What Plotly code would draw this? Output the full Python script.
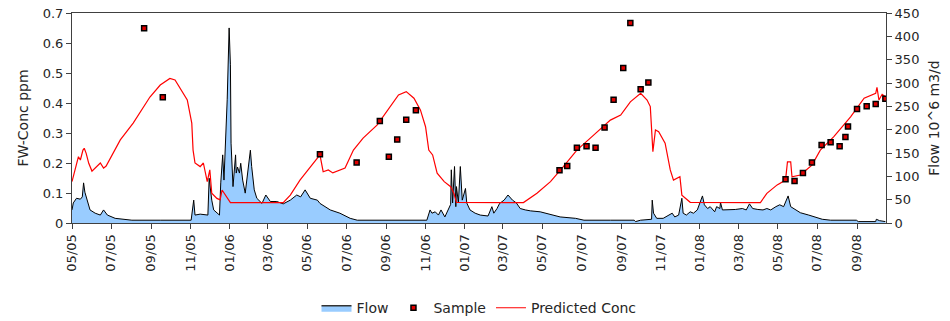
import plotly.graph_objects as go

# ---- Flow (10^6 m3/d), right axis ----
flow_dates = [
    "2005-05-01", "2005-05-03", "2005-05-08", "2005-05-14", "2005-05-17", "2005-05-19", "2005-05-21",
    "2005-05-25", "2005-05-29", "2005-06-06", "2005-06-14", "2005-06-19", "2005-06-25", "2005-07-07",
    "2005-07-22", "2005-08-02", "2005-09-15", "2005-11-02", "2005-11-06", "2005-11-08", "2005-11-16",
    "2005-11-28", "2005-11-30", "2005-12-04", "2005-12-07", "2005-12-16", "2005-12-18", "2005-12-21",
    "2005-12-23", "2005-12-26", "2005-12-28", "2005-12-31", "2006-01-02", "2006-01-03", "2006-01-06",
    "2006-01-10", "2006-01-11", "2006-01-13", "2006-01-16", "2006-01-18", "2006-01-21", "2006-01-25",
    "2006-01-28", "2006-02-02", "2006-02-04", "2006-02-08", "2006-02-12", "2006-02-20", "2006-02-26",
    "2006-03-05", "2006-03-15", "2006-03-25", "2006-04-05", "2006-04-15", "2006-04-21", "2006-04-28",
    "2006-05-06", "2006-05-11", "2006-05-17", "2006-05-21", "2006-05-29", "2006-06-06", "2006-06-21",
    "2006-07-07", "2006-07-18", "2006-09-15", "2006-11-03", "2006-11-08", "2006-11-11", "2006-11-16",
    "2006-11-21", "2006-11-25", "2006-12-01", "2006-12-10", "2006-12-11", "2006-12-13", "2006-12-16",
    "2006-12-18", "2006-12-19", "2006-12-22", "2006-12-25", "2006-12-28", "2007-01-02", "2007-01-04",
    "2007-01-09", "2007-01-17", "2007-01-25", "2007-02-06", "2007-02-12", "2007-02-15", "2007-02-20",
    "2007-02-24", "2007-03-03", "2007-03-09", "2007-03-16", "2007-03-22", "2007-03-28", "2007-04-05",
    "2007-04-13", "2007-04-28", "2007-05-06", "2007-05-14", "2007-05-29", "2007-06-22", "2007-07-05",
    "2007-08-15", "2007-09-21", "2007-09-23", "2007-10-01", "2007-10-18", "2007-10-19", "2007-10-21",
    "2007-10-26", "2007-11-05", "2007-11-14", "2007-11-19", "2007-11-23", "2007-11-29", "2007-12-04",
    "2007-12-06", "2007-12-11", "2007-12-17", "2007-12-22", "2007-12-28", "2008-01-05", "2008-01-08",
    "2008-01-13", "2008-01-17", "2008-01-24", "2008-01-27", "2008-02-01", "2008-02-02", "2008-02-05",
    "2008-02-14", "2008-02-25", "2008-03-07", "2008-03-13", "2008-03-18", "2008-03-23", "2008-03-31",
    "2008-04-08", "2008-04-14", "2008-04-20", "2008-04-28", "2008-05-04", "2008-05-10", "2008-05-17",
    "2008-05-21", "2008-05-29", "2008-06-05", "2008-06-18", "2008-06-28", "2008-07-09", "2008-07-22",
    "2008-08-31", "2008-09-03", "2008-09-30", "2008-10-01", "2008-10-06", "2008-10-15",
]
flow_values = [
    28, 43, 53, 51, 56, 86, 66,
    46, 28, 21, 17, 28, 17, 10,
    8, 6, 6, 6, 49, 17, 19,
    17, 96, 49, 28, 17, 86, 146,
    92, 193, 264, 418, 339, 171, 78,
    146, 107, 120, 107, 128, 92, 64,
    99, 156, 121, 71, 53, 42, 60,
    46, 46, 41, 49, 60, 56, 71,
    53, 51, 49, 42, 35, 28, 21,
    10, 6, 6, 6, 28, 21, 24,
    17, 28, 13, 40, 114, 43, 121,
    35, 78, 43, 121, 49, 74, 43,
    28, 21, 17, 15, 35, 21, 31,
    42, 49, 60, 49, 43, 31, 28,
    26, 24, 21, 17, 13, 10, 6,
    6, 6, 3, 6, 8, 49, 21,
    10, 10, 17, 21, 13, 17, 53,
    21, 17, 24, 21, 28, 58, 39,
    31, 35, 24, 35, 31, 44, 28,
    28, 29, 31, 28, 41, 31, 29,
    28, 31, 28, 35, 39, 35, 58,
    35, 28, 22, 17, 12, 8, 6,
    6, 3, 3, 8, 5, 3,
]

# ---- Predicted Conc (ppm), left axis ----
conc_dates = [
    "2005-05-01", "2005-05-06", "2005-05-11", "2005-05-14", "2005-05-18", "2005-05-20", "2005-05-23",
    "2005-05-27", "2005-06-01", "2005-06-14", "2005-06-19", "2005-06-23", "2005-07-15", "2005-08-04",
    "2005-08-30", "2005-09-15", "2005-09-30", "2005-10-08", "2005-10-16", "2005-10-27", "2005-11-03",
    "2005-11-05", "2005-11-08", "2005-11-16", "2005-11-21", "2005-11-27", "2005-12-01", "2005-12-04",
    "2005-12-12", "2005-12-17", "2005-12-20", "2005-12-27", "2006-01-02", "2006-03-25", "2006-04-05",
    "2006-04-20", "2006-05-06", "2006-05-18", "2006-05-21", "2006-05-26", "2006-06-03", "2006-06-10",
    "2006-06-29", "2006-07-12", "2006-07-27", "2006-08-18", "2006-09-07", "2006-09-20", "2006-10-02",
    "2006-10-14", "2006-10-24", "2006-11-01", "2006-11-06", "2006-11-12", "2006-11-19", "2006-11-30",
    "2006-12-10", "2006-12-15", "2006-12-19", "2007-04-02", "2007-04-23", "2007-05-14", "2007-06-03",
    "2007-06-24", "2007-07-20", "2007-08-15", "2007-08-31", "2007-09-15", "2007-10-01", "2007-10-11",
    "2007-10-16", "2007-10-20", "2007-10-24", "2007-10-29", "2007-11-08", "2007-11-16", "2007-11-21",
    "2007-12-01", "2007-12-04", "2007-12-17", "2008-04-04", "2008-04-14", "2008-04-30", "2008-05-13",
    "2008-05-16", "2008-05-21", "2008-05-23", "2008-06-05", "2008-06-23", "2008-07-06", "2008-07-27",
    "2008-08-22", "2008-09-12", "2008-09-30", "2008-10-02", "2008-10-05", "2008-10-10", "2008-10-15",
]
conc_values = [
    0.138, 0.177, 0.221, 0.210, 0.243, 0.249, 0.232,
    0.199, 0.173, 0.200, 0.183, 0.190, 0.277, 0.333,
    0.420, 0.460, 0.482, 0.477, 0.450, 0.410, 0.333,
    0.243, 0.200, 0.188, 0.200, 0.138, 0.177, 0.099,
    0.082, 0.077, 0.110, 0.088, 0.068, 0.068, 0.093,
    0.143, 0.187, 0.220, 0.227, 0.171, 0.177, 0.167,
    0.183, 0.243, 0.283, 0.327, 0.388, 0.427, 0.438,
    0.416, 0.377, 0.321, 0.243, 0.227, 0.166, 0.138,
    0.121, 0.099, 0.069, 0.068, 0.099, 0.138, 0.188,
    0.243, 0.293, 0.343, 0.360, 0.404, 0.432, 0.410,
    0.388, 0.238, 0.310, 0.304, 0.266, 0.177, 0.143,
    0.154, 0.093, 0.069, 0.068, 0.099, 0.127, 0.143,
    0.204, 0.204, 0.154, 0.160, 0.193, 0.243, 0.288,
    0.354, 0.416, 0.432, 0.452, 0.410, 0.429, 0.421,
]

# ---- Sample (ppm), left axis ----
sample_dates = [
    "2005-08-21", "2005-09-19", "2006-05-21", "2006-07-17", "2006-08-22", "2006-09-05", "2006-09-18",
    "2006-10-02", "2006-10-17", "2007-05-28", "2007-06-09", "2007-06-24", "2007-07-09", "2007-07-23",
    "2007-08-06", "2007-08-20", "2007-09-04", "2007-09-15", "2007-10-01", "2007-10-13", "2008-05-13",
    "2008-05-27", "2008-06-09", "2008-06-23", "2008-07-08", "2008-07-22", "2008-08-05", "2008-08-14",
    "2008-08-18", "2008-09-01", "2008-09-16", "2008-09-30", "2008-10-15",
]
sample_values = [
    0.649, 0.419, 0.229, 0.202, 0.340, 0.221, 0.278,
    0.344, 0.376, 0.176, 0.190, 0.251, 0.256, 0.251,
    0.318, 0.411, 0.517, 0.667, 0.446, 0.468, 0.146,
    0.140, 0.167, 0.202, 0.260, 0.269, 0.256, 0.287,
    0.322, 0.380, 0.389, 0.397, 0.414,
]

conc_ticks = [0, 0.1, 0.2, 0.3, 0.4, 0.5, 0.6, 0.7]
conc_tick_text = ["0", "0.1", "0.2", "0.3", "0.4", "0.5", "0.6", "0.7"]
flow_ticks = [0, 50, 100, 150, 200, 250, 300, 350, 400, 450]

FONT = "DejaVu Sans, Verdana, sans-serif"
TXT = "#262626"
AX = "#404040"

fig = go.Figure()
fig.add_trace(go.Scatter(
    x=flow_dates, y=flow_values, name="Flow", mode="lines",
    line=dict(color="#000000", width=1), fill="tozeroy", fillcolor="#99CCFF",
    yaxis="y", showlegend=False,
))
# legend entry for Flow
fig.add_trace(go.Scatter(
    x=[None], y=[None], name="Flow", mode="lines", fill="toself",
    line=dict(color="#333333", width=1.5), fillcolor="#99CCFF",
    yaxis="y", legendrank=1,
))
fig.add_trace(go.Scatter(
    x=conc_dates, y=conc_values, name="Predicted Conc", mode="lines",
    line=dict(color="#FF0000", width=1.2), yaxis="y2", legendrank=3,
))
fig.add_trace(go.Scatter(
    x=sample_dates, y=sample_values, name="Sample", mode="markers",
    marker=dict(symbol="square", size=5, color="#E00000", line=dict(color="#000000", width=1.5)),
    yaxis="y2", legendrank=2,
))

fig.update_layout(
    width=950, height=321,
    margin=dict(l=72, r=64, t=13, b=98),
    paper_bgcolor="white", plot_bgcolor="white",
    font=dict(family=FONT, size=13, color=TXT),
    showlegend=True,
    legend=dict(orientation="h", x=0.5, xanchor="center", yref="container", y=0.04,
                yanchor="middle", font=dict(size=14, color=TXT), itemwidth=30,
                bgcolor="rgba(0,0,0,0)"),
    xaxis=dict(
        type="date", range=["2005-05-01", "2008-10-16"], automargin=False,
        tick0="2005-05-01", dtick="M2", tickformat="%m/%y", tickangle=-90,
        ticks="outside", ticklen=5, tickcolor=AX,
        showline=True, linecolor=AX, linewidth=1, mirror=True,
        showgrid=False, zeroline=False, tickfont=dict(size=13, color=TXT),
    ),
    yaxis=dict(
        side="right", range=[0, 450], tickvals=flow_ticks, automargin=False,
        ticks="outside", ticklen=5, tickcolor=AX,
        showline=True, linecolor=AX, linewidth=1,
        showgrid=False, zeroline=False,
        title=dict(text="Flow 10^6 m3/d", font=dict(size=14, color=TXT), standoff=10),
        tickfont=dict(size=13, color=TXT),
    ),
    yaxis2=dict(
        overlaying="y", side="left", range=[0, 0.7], automargin=False,
        tickvals=conc_ticks, ticktext=conc_tick_text,
        ticks="outside", ticklen=5, tickcolor=AX,
        showline=True, linecolor=AX, linewidth=1,
        showgrid=False, zeroline=False,
        title=dict(text="FW-Conc ppm", font=dict(size=14, color=TXT), standoff=10),
        tickfont=dict(size=13, color=TXT),
    ),
)

fig.write_html("out.html")
